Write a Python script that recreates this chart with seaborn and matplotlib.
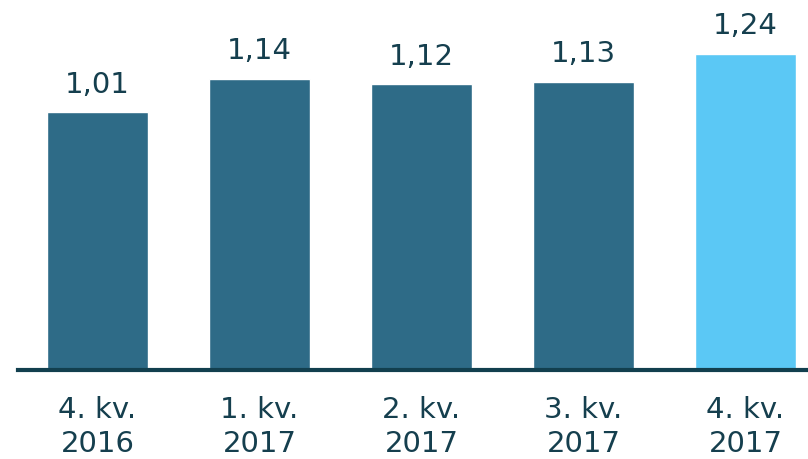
import pandas as pd
import seaborn as sns
import matplotlib.pyplot as plt

# Data
quarters = ["4. kv.\n2016", "1. kv.\n2017", "2. kv.\n2017", "3. kv.\n2017", "4. kv.\n2017"]
values = [1.01, 1.14, 1.12, 1.13, 1.24]
labels = ["1,01", "1,14", "1,12", "1,13", "1,24"]

dark = "#2E6B87"
light = "#5BC8F5"
text_col = "#153F4E"
colors = [dark, dark, dark, dark, light]

df = pd.DataFrame({"quarter": quarters, "value": values})

sns.set_theme(style="white")
plt.rcParams["font.family"] = ["DejaVu Sans"]

fig = plt.figure(figsize=(8.08, 4.59), dpi=100)
ax = fig.add_axes([18 / 808, 1 - 370 / 459, 790 / 808, 370 / 459])

sns.barplot(data=df, x="quarter", y="value", hue="quarter", palette=colors,
            legend=False, width=0.623, saturation=1, ax=ax)

for i, (v, lab) in enumerate(zip(values, labels)):
    ax.annotate(lab, (i, v), xytext=(0, 10), textcoords="offset points",
                ha="center", va="bottom", fontsize=21, color=text_col)

ax.set_xlim(-0.49, 4.386)
ax.set_ylim(0, 1.451)
ax.set_xlabel("")
ax.set_ylabel("")
ax.set_yticks([])
ax.tick_params(axis="x", length=0, pad=19, labelsize=21, labelcolor=text_col)
for t in ax.get_xticklabels():
    t.set_linespacing(1.25)

for s in ["top", "right", "left"]:
    ax.spines[s].set_visible(False)
ax.spines["bottom"].set_color("#123F4E")
ax.spines["bottom"].set_linewidth(3)

fig.savefig("out.png", dpi=100)
